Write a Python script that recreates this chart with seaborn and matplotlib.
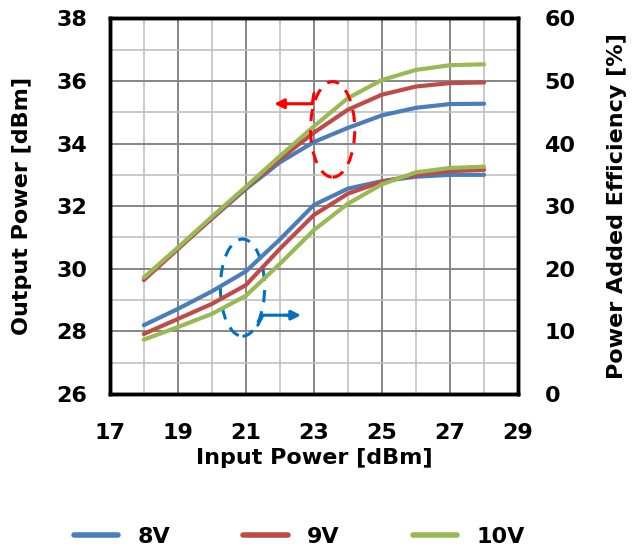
import numpy as np
import pandas as pd
import matplotlib.pyplot as plt
import seaborn as sns
from matplotlib.patches import Ellipse

# data
pin = [18, 19, 20, 21, 22, 23, 24, 25, 26, 27, 28]
pout_8v = [29.7, 30.65, 31.6, 32.55, 33.4, 34.05, 34.5, 34.9, 35.14, 35.26, 35.27]
pout_9v = [29.64, 30.63, 31.62, 32.58, 33.5, 34.35, 35.08, 35.56, 35.82, 35.93, 35.95]
pout_10v = [29.72, 30.68, 31.66, 32.62, 33.6, 34.55, 35.45, 36.03, 36.35, 36.5, 36.53]
pae_8v = [11.0, 13.6, 16.4, 19.6, 24.7, 30.2, 32.8, 34.0, 34.7, 35.0, 35.0]
pae_9v = [9.6, 12.0, 14.4, 17.4, 23.2, 28.6, 32.0, 33.9, 35.0, 35.6, 35.8]
pae_10v = [8.7, 10.7, 12.8, 15.7, 20.8, 26.2, 30.4, 33.5, 35.4, 36.1, 36.3]
labels = ['8V', '9V', '10V']
colors = ['#4a7ebb', '#be4b48', '#98b954']

pout = pd.DataFrame({'pin': pin * 3, 'val': pout_8v + pout_9v + pout_10v,
                     'bias': [l for l in labels for _ in pin]})
pae = pd.DataFrame({'pin': pin * 3, 'val': pae_8v + pae_9v + pae_10v,
                    'bias': [l for l in labels for _ in pin]})

sns.set_style('white')
plt.rcParams['font.family'] = ['DejaVu Sans']
plt.rcParams.update({'text.color': 'black', 'axes.labelcolor': 'black',
                     'xtick.color': 'black', 'ytick.color': 'black'})
fig = plt.figure(figsize=(6.42, 5.52), dpi=100)
ax = fig.add_axes([0.171, 0.286, 0.636, 0.681])
ax2 = ax.twinx()

pal = dict(zip(labels, colors))
sns.lineplot(data=pout, x='pin', y='val', hue='bias', palette=pal, lw=3, ax=ax, legend=False,
             solid_joinstyle='round', solid_capstyle='round')
sns.lineplot(data=pae, x='pin', y='val', hue='bias', palette=pal, lw=3, ax=ax2, legend=False,
             solid_joinstyle='round', solid_capstyle='round')

ax.set_xlim(17, 29)
ax.set_ylim(26, 38)
ax2.set_ylim(0, 60)
ax.set_xticks(range(17, 30, 2))
ax.set_xticks(range(17, 30), minor=True)
ax.set_yticks(range(26, 39, 2))
ax.set_yticks(range(26, 39), minor=True)
ax2.set_yticks(range(0, 61, 10))
ax.grid(which='minor', color='#c0c0c0', lw=1.2)
ax.grid(which='major', color='#868686', lw=1.4)
ax.set_axisbelow(True)
ax.tick_params(axis='x', which='both', length=0, labelsize=16, pad=21)
ax.tick_params(axis='y', which='both', length=0, labelsize=16, pad=16)
ax2.tick_params(length=0, labelsize=16, pad=19)
for t in ax.get_xticklabels() + ax.get_yticklabels() + ax2.get_yticklabels():
    t.set_fontweight('bold')
for a in (ax, ax2):
    for s in a.spines.values():
        s.set_color('black')
        s.set_linewidth(2.5)

ax.set_xlabel('Input Power [dBm]', fontsize=16, fontweight='bold')
ax.set_ylabel('Output Power [dBm]', fontsize=16, fontweight='bold')
ax2.set_ylabel('Power Added Efficiency [%]', fontsize=16, fontweight='bold')
ax.xaxis.set_label_coords(0.5, -0.143)
ax.yaxis.set_label_coords(-0.19, 0.5)
ax2.yaxis.set_label_coords(1.218, 0.5)

# annotations
ax.add_patch(Ellipse((23.55, 34.45), 1.3, 3.05, fill=False, ec='red', ls=(0, (4, 3)), lw=2.2, zorder=5))
ax.plot([23.0, 22.95, 22.2], [35.6, 35.27, 35.27], color='red', lw=2.2, zorder=5)
ax.annotate('', xy=(21.75, 35.27), xytext=(22.3, 35.27),
            arrowprops=dict(arrowstyle='-|>', color='red', lw=2.2, mutation_scale=14))
ax.add_patch(Ellipse((20.9, 29.4), 1.3, 3.1, fill=False, ec='#0070c0', ls=(0, (4, 3)), lw=2.2, zorder=5))
ax.plot([21.35, 21.5, 22.2], [28.2, 28.52, 28.52], color='#0070c0', lw=2.2, zorder=5)
ax.annotate('', xy=(22.7, 28.52), xytext=(22.1, 28.52),
            arrowprops=dict(arrowstyle='-|>', color='#0070c0', lw=2.2, mutation_scale=14))

handles = [plt.Line2D([], [], color=c, lw=4, solid_capstyle='round') for c in colors]
fig.legend(handles, labels, loc='center', bbox_to_anchor=(0.466, 0.027), ncol=3, frameon=False,
           prop={'size': 16, 'weight': 'bold'}, handlelength=2.0, columnspacing=3.3, handletextpad=0.85)

fig.savefig('out.png', dpi=100)
